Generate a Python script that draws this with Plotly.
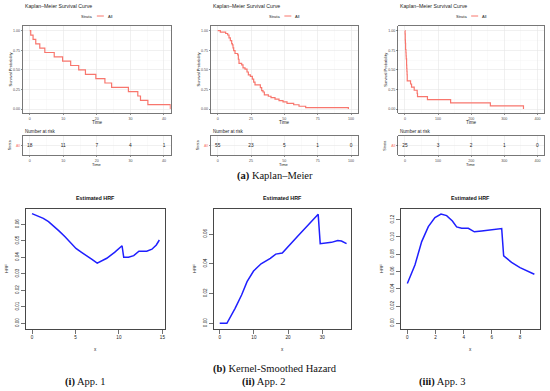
import plotly.graph_objects as go

# ---------------- DATA ----------------
# Kaplan-Meier step curves (time, survival)
km1_time = [0, 0.3, 1.0, 1.8, 3.0, 4.5, 7.3, 9.8, 12.2, 14.6, 16.6, 19.7, 22.4, 24.4, 29.4, 32.2, 33.0, 35.2, 41.9]
km1_surv = [1.0, 0.944, 0.889, 0.833, 0.778, 0.722, 0.667, 0.611, 0.556, 0.5, 0.444, 0.389, 0.333, 0.278, 0.222, 0.167, 0.111, 0.056, 0.0]

km2_time = [0, 2, 6, 7.5, 8.5, 9.5, 10.5, 11, 11.5, 12, 13, 15, 15.5, 16, 18, 19, 20.5, 22, 23, 24.5,
            26, 27, 28, 32, 33, 34, 35, 38, 40, 43, 46, 49, 52, 57, 61, 66, 98]
km2_surv = [1.0, 0.982, 0.964, 0.945, 0.909, 0.873, 0.836, 0.818, 0.782, 0.745, 0.709, 0.691, 0.636, 0.582, 0.564, 0.527, 0.509, 0.473, 0.436, 0.418,
            0.382, 0.345, 0.309, 0.273, 0.236, 0.218, 0.182, 0.164, 0.145, 0.127, 0.109, 0.091, 0.073, 0.055, 0.036, 0.018, 0.0]

km3_time = [0, 0.5, 1, 1.5, 2, 3, 3.5, 4, 5, 5.5, 6, 6.5, 7, 17, 20, 28, 37, 38, 68, 138, 258, 358]
km3_surv = [1.0, 0.96, 0.88, 0.84, 0.76, 0.72, 0.68, 0.64, 0.56, 0.52, 0.48, 0.44, 0.36, 0.32, 0.28, 0.24, 0.20, 0.16, 0.12, 0.08, 0.04, 0.0]

# Number at risk tables
risk1_time = [0, 10, 20, 30, 40]
risk1_n = [18, 11, 7, 4, 1]
risk2_time = [0, 25, 50, 75, 100]
risk2_n = [55, 23, 5, 1, 0]
risk3_time = [0, 100, 200, 300, 400]
risk3_n = [25, 3, 2, 1, 0]

# Kernel-smoothed hazard estimates
haz1_x = [0, 0.6, 1.3, 1.9, 2.45, 3.1, 3.8, 4.4, 5.06, 5.7, 6.3, 6.9, 7.5, 8.6, 9.5, 10.36, 10.55, 11.1, 11.7, 12.3, 13.2, 13.8, 14.3, 14.65]
haz1_y = [0.0665, 0.0653, 0.0636, 0.0616, 0.0592, 0.0560, 0.0525, 0.0488, 0.0454, 0.0430, 0.0410, 0.0387, 0.0364, 0.0394, 0.0430, 0.0470, 0.0400, 0.0400, 0.0410, 0.0437, 0.0437, 0.0449, 0.0475, 0.0505]

haz2_x = [0, 2.1, 4.5, 6.4, 8.0, 9.9, 12.1, 14.8, 16.4, 18.3, 23.0, 28.8, 29.4, 31.7, 32.7, 34.5, 35.6, 37.1]
haz2_y = [0.0, 0.0, 0.0101, 0.0190, 0.0280, 0.0351, 0.0400, 0.0436, 0.0465, 0.0472, 0.0590, 0.0732, 0.0535, 0.0544, 0.0544, 0.0557, 0.0553, 0.0535]

haz3_x = [0, 0.54, 1.02, 1.49, 1.96, 2.39, 2.79, 3.2, 3.5, 3.86, 4.33, 4.76, 5.28, 6.7, 6.84, 7.4, 8.0, 9.02]
haz3_y = [0.046, 0.0676, 0.0946, 0.112, 0.1224, 0.1266, 0.1247, 0.1185, 0.1116, 0.110, 0.110, 0.106, 0.107, 0.1097, 0.078, 0.0707, 0.0645, 0.0568]

km_ticks = [[0, 10, 20, 30, 40], [0, 25, 50, 75, 100], [0, 100, 200, 300, 400]]
haz_xticks = [[0, 5, 10, 15], [0, 10, 20, 30], [0, 2, 4, 6, 8]]
haz_yticks = [[0, 0.01, 0.02, 0.03, 0.04, 0.05, 0.06], [0, 0.02, 0.04, 0.06], [0, 0.02, 0.04, 0.06, 0.08, 0.10, 0.12]]

# ---------------- LAYOUT GEOMETRY (pixels) ----------------
W, H = 550, 391
def px(x): return x / W
def py(y): return 1 - y / H

km_left = [23, 211, 398.3]
km_right = [170.7, 357.7, 544]
km_top, km_bot = 26, 113
rk_top, rk_bot = 135.7, 155
km_xrange = [[-2, 42], [-5, 105], [-20, 420]]

hz_left = [26, 214, 401]
hz_right = [165, 351, 540]
hz_top, hz_bot = 209, 329
hz_xrange = [[-0.69, 15.3], [-1.67, 38.4], [-0.45, 9.42]]
hz_yrange = [[-0.0035, 0.0693], [-0.0038, 0.0768], [-0.0066, 0.1324]]

RED = "#F8766D"
SANS = "Liberation Sans"
SERIF = "Liberation Serif"

fig = go.Figure()
km_data = [(km1_time, km1_surv), (km2_time, km2_surv), (km3_time, km3_surv)]
risk_data = [(risk1_time, risk1_n), (risk2_time, risk2_n), (risk3_time, risk3_n)]
haz_data = [(haz1_x, haz1_y), (haz2_x, haz2_y), (haz3_x, haz3_y)]

layout = dict(width=W, height=H, margin=dict(l=0, r=0, t=0, b=0),
              paper_bgcolor="white", plot_bgcolor="white", showlegend=False,
              hovermode=False, font=dict(family=SANS, color="#333"))
annotations = []
shapes = []

def ann(x, y, text, size, color="#222", xanchor="center", yanchor="middle", angle=0, family=SANS):
    annotations.append(dict(x=px(x), y=py(y), xref="paper", yref="paper", text=text, showarrow=False,
                            xanchor=xanchor, yanchor=yanchor, textangle=angle,
                            font=dict(size=size, color=color, family=family)))

for i in range(3):
    a_main = i + 1
    a_risk = i + 4
    a_haz = i + 7
    # ---- KM main plot ----
    t, s = km_data[i]
    fig.add_trace(go.Scatter(x=t, y=s, mode="lines", line=dict(color=RED, width=1.2, shape="hv"),
                             xaxis=f"x{a_main}", yaxis=f"y{a_main}"))
    common_km = dict(showline=True, mirror=True, linecolor="#555", linewidth=0.8,
                     gridcolor="#E6E6E6", gridwidth=0.6, zeroline=False,
                     ticks="outside", ticklen=1.5, tickwidth=0.6, tickcolor="#444",
                     tickfont=dict(size=3.6, color="#4d4d4d", family=SANS))
    minor_x = dict(showgrid=True, gridcolor="#F2F2F2", gridwidth=0.4,
                   tickvals=[(km_ticks[i][k] + km_ticks[i][k + 1]) / 2 for k in range(4)])
    layout[f"xaxis{a_main}"] = dict(domain=[px(km_left[i]), px(km_right[i])], range=km_xrange[i],
                                    anchor=f"y{a_main}", tickvals=km_ticks[i], minor=minor_x, **common_km)
    layout[f"yaxis{a_main}"] = dict(domain=[py(km_bot), py(km_top)], range=[-0.05, 1.06],
                                    anchor=f"x{a_main}", tickvals=[0, 0.25, 0.5, 0.75, 1.0],
                                    tickformat=".2f",
                                    minor=dict(showgrid=True, gridcolor="#F2F2F2", gridwidth=0.4,
                                               tickvals=[0.125, 0.375, 0.625, 0.875]),
                                    **common_km)
    cx = (km_left[i] + km_right[i]) / 2
    ann(km_left[i], 6, "Kaplan–Meier Survival Curve", 5.2, xanchor="left")
    ann(cx - 2.5, 16, "Strata", 4, xanchor="right")
    shapes.append(dict(type="line", xref="paper", yref="paper", x0=px(cx), x1=px(cx + 7),
                       y0=py(16), y1=py(16), line=dict(color=RED, width=1)))
    ann(cx + 9, 16, "All", 4, xanchor="left")
    ann(km_left[i] - 13, (km_top + km_bot) / 2, "Survival Probability", 4, angle=-90)
    ann(cx, 122, "Time", 4.6)

    # ---- risk table ----
    rt, rn = risk_data[i]
    fig.add_trace(go.Scatter(x=rt, y=[0] * len(rt), mode="text", text=[str(v) for v in rn],
                             textfont=dict(size=4.8, color="#222", family=SANS),
                             xaxis=f"x{a_risk}", yaxis=f"y{a_risk}"))
    layout[f"xaxis{a_risk}"] = dict(domain=[px(km_left[i]), px(km_right[i])], range=km_xrange[i],
                                    anchor=f"y{a_risk}", tickvals=km_ticks[i], minor=minor_x, **common_km)
    rk_y = dict(common_km)
    rk_y["tickfont"] = dict(size=3.6, color=RED, family=SANS)
    layout[f"yaxis{a_risk}"] = dict(domain=[py(rk_bot), py(rk_top)], range=[-0.6, 0.6],
                                    anchor=f"x{a_risk}", tickvals=[0], ticktext=["All"], **rk_y)
    ann(km_left[i], 131, "Number at risk", 4.6, xanchor="left")
    ann(km_left[i] - 13, (rk_top + rk_bot) / 2, "Strata", 3.8, angle=-90)
    ann(cx, 164.5, "Time", 4)

    # ---- hazard plot ----
    hx, hy = haz_data[i]
    fig.add_trace(go.Scatter(x=hx, y=hy, mode="lines", line=dict(color="#1F1FFF", width=1.5),
                             xaxis=f"x{a_haz}", yaxis=f"y{a_haz}"))
    common_hz = dict(showline=True, mirror=True, linecolor="#333", linewidth=0.9,
                     showgrid=False, zeroline=False, ticks="outside", ticklen=4, tickwidth=0.7,
                     tickcolor="#333", tickfont=dict(size=4.6, color="#222", family=SANS))
    layout[f"xaxis{a_haz}"] = dict(domain=[px(hz_left[i]), px(hz_right[i])], range=hz_xrange[i],
                                   anchor=f"y{a_haz}", tickvals=haz_xticks[i], **common_hz)
    layout[f"yaxis{a_haz}"] = dict(domain=[py(hz_bot), py(hz_top)], range=hz_yrange[i],
                                   anchor=f"x{a_haz}", tickvals=haz_yticks[i], tickformat=".2f",
                                   tickangle=-90, **common_hz)
    hcx = (hz_left[i] + hz_right[i]) / 2
    ann(hcx, 198, "<b>Estimated HRF</b>", 5.4, color="#111")
    ann(hz_left[i] - 20, (hz_top + hz_bot) / 2, "HRF", 4.4, angle=-90)
    ann(hcx, 349, "x", 4.6)

# captions
ann(275, 176, "<b>(a)</b> Kaplan–Meier", 10.5, color="#111", family=SERIF)
ann(275, 369, "<b>(b)</b> Kernel-Smoothed Hazard", 10.5, color="#111", family=SERIF)
ann(85, 382, "<b>(i)</b> App. 1", 10.5, color="#111", family=SERIF)
ann(263, 382, "<b>(ii)</b> App. 2", 10.5, color="#111", family=SERIF)
ann(442, 382, "<b>(iii)</b> App. 3", 10.5, color="#111", family=SERIF)

layout["annotations"] = annotations
layout["shapes"] = shapes
fig.update_layout(**layout)
fig.write_html("out.html", config={"displayModeBar": False, "staticPlot": True})

# remove the browser's default 8px body margin so the figure sits at the page origin
with open("out.html", "r", encoding="utf-8") as f:
    html = f.read()
html = html.replace("<head>", "<head><style>html,body{margin:0;padding:0;overflow:hidden;}</style>", 1)
with open("out.html", "w", encoding="utf-8") as f:
    f.write(html)
